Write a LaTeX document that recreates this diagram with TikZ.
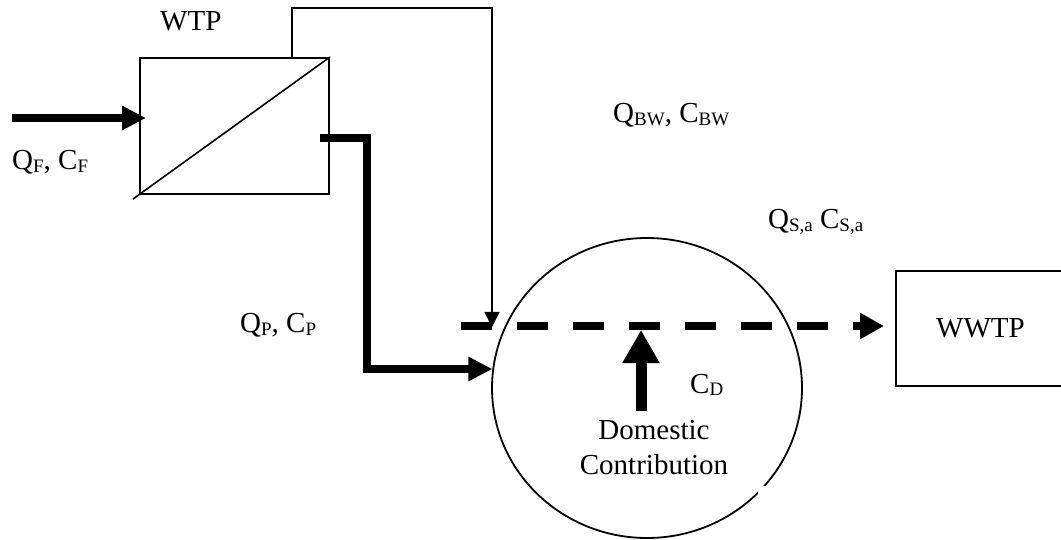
\documentclass[tikz,border=0pt]{standalone}
\usepackage{fontspec}
\setmainfont{Liberation Serif}
\usetikzlibrary{arrows.meta,shapes.geometric}
\newcommand{\sbx}[1]{\raisebox{-2.5pt}{\fontsize{19}{19}\selectfont #1}}
\begin{document}
\begin{tikzpicture}[x=1pt,y=-1pt,
  every node/.style={font=\fontsize{29}{35}\selectfont},
  lbl/.style={anchor=base west, inner sep=0pt},
  unitbox/.style={draw, rectangle, line width=2pt, inner sep=0pt},
  thinline/.style={line width=1.6pt},
  thinarrow/.style={line width=1.6pt, -{Triangle[length=15pt,width=15pt]}},
  thkarrow/.style={line width=8pt, -{Triangle[length=24pt,width=23pt]}},
  dasharrow/.style={line width=7.5pt, dash pattern=on 31pt off 25pt, -{Triangle[length=24pt,width=25pt]}},
  bigarrow/.style={line width=11pt, -{Triangle[length=33pt,width=35pt]}}]
\useasboundingbox (0,0) rectangle (1061,540);
\clip (0,0) rectangle (1061,540);

% units
\node[unitbox, minimum width=189pt, minimum height=136pt] (wtp) at (234.5,126) {};
\node[unitbox, minimum width=169pt, minimum height=115pt] (wwtp) at (980.5,328.5) {WWTP};
\node[draw, ellipse, line width=1.8pt, minimum width=310pt, minimum height=300pt, inner sep=0pt] (city) at (647,388) {};
\fill[white] (758,486) rectangle (766,497);

% labels
\node[lbl] (wtpl) at (160,31) {WTP};
\node[lbl] (qf) at (12,170) {Q\sbx{F}, C\sbx{F}};
\node[lbl] (qbw) at (613,123) {Q\sbx{BW}, C\sbx{BW}};
\node[lbl] (qsa) at (768,229) {Q\sbx{S,a} C\sbx{S,a}};
\node[lbl] (qp) at (240,333) {Q\sbx{P}, C\sbx{P}};
\node[lbl] (cd) at (690,393) {C\sbx{D}};
\node[anchor=south, inner sep=0pt, align=center] (dom) at (654,475) {Domestic\\Contribution};

% membrane diagonal
\coordinate (dgs) at (133,199);
\draw[thinline] (dgs) -- (wtp.north east);

% feed
\coordinate (fin) at (12,118);
\coordinate (fend) at (146,118);
\draw[thkarrow] (fin) -- (fend);

% permeate
\coordinate (pst) at (320,138);
\draw[thkarrow] (pst) -- (367,138) |- (city.173.3);

% backwash
\coordinate (bws) at (292,57);
\coordinate (bwe) at (492,327);
\draw[thinarrow] (bws) -- (292,8) -| (bwe);

% sewer flow
\coordinate (dst) at (461,326);
\coordinate (dend) at (884,326);
\draw[dasharrow] (dst) -- (dend);

% domestic contribution
\coordinate (dsrc) at (641,411);
\coordinate (dtip) at (641,330);
\draw[bigarrow] (dsrc) -- (dtip);
\end{tikzpicture}
\end{document}
